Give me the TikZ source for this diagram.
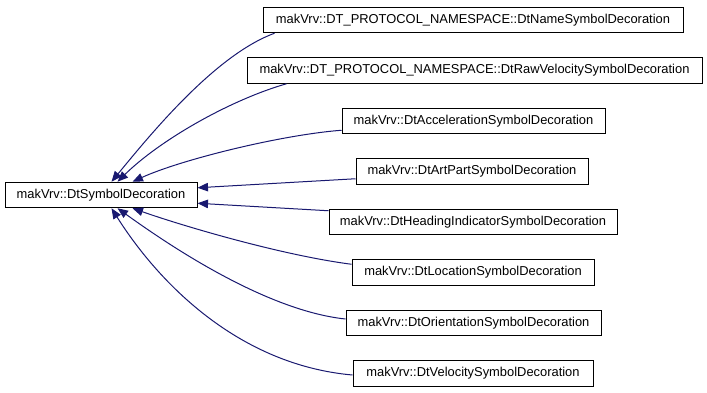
\documentclass[tikz,border=0pt]{standalone}
\usepackage{fontspec}
\setmainfont{Liberation Sans}
\usetikzlibrary{arrows.meta}
\definecolor{edgeblue}{HTML}{191970}
\begin{document}
\begin{tikzpicture}[x=1pt,y=-1pt,
  cls/.style={draw=black,line width=1pt,fill=white,rectangle,inner sep=0pt,
    minimum height=25.5pt,font=\fontsize{12.9}{15}\selectfont},
  inh/.style={draw=edgeblue,line width=1pt,-{Triangle[length=10.5pt,width=8.5pt]},color=edgeblue}]
\useasboundingbox (0,0) rectangle (707,392);
\node[cls,minimum width=192pt] (base) at (101,195) {makVrv::DtSymbolDecoration};
\node[cls,minimum width=420pt] (name) at (473,20) {makVrv::DT\_PROTOCOL\_NAMESPACE::DtNameSymbolDecoration};
\node[cls,minimum width=455pt] (raw) at (474.5,70.5) {makVrv::DT\_PROTOCOL\_NAMESPACE::DtRawVelocitySymbolDecoration};
\node[cls,minimum width=263pt] (accel) at (473.5,121) {makVrv::DtAccelerationSymbolDecoration};
\node[cls,minimum width=232pt] (art) at (472,171.5) {makVrv::DtArtPartSymbolDecoration};
\node[cls,minimum width=288pt] (head) at (473,222) {makVrv::DtHeadingIndicatorSymbolDecoration};
\node[cls,minimum width=242pt] (loc) at (473,272.5) {makVrv::DtLocationSymbolDecoration};
\node[cls,minimum width=255pt] (orient) at (473.5,323) {makVrv::DtOrientationSymbolDecoration};
\node[cls,minimum width=240pt] (vel) at (473,373.5) {makVrv::DtVelocitySymbolDecoration};

\draw[inh] ([xshift=12pt]name.south west) .. controls (215,55) and (150,135) .. ([xshift=107pt]base.north west);
\draw[inh] ([xshift=40pt]raw.south west) .. controls (230,100) and (160,140) .. ([xshift=113pt]base.north west);
\draw[inh] ([yshift=4pt]accel.south west) .. controls (280,135) and (180,160) .. ([xshift=128pt]base.north west);
\draw[inh] ([yshift=6pt]art.south west) -- ([yshift=-6pt]base.north east);
\draw[inh] ([yshift=-2pt]head.north west) -- ([yshift=5pt]base.south east);
\draw[inh] ([yshift=-5pt]loc.north west) .. controls (280,255) and (180,225) .. ([xshift=128pt]base.south west);
\draw[inh] ([yshift=4pt]orient.west) .. controls (260,310) and (155,235) .. ([xshift=113pt]base.south west);
\draw[inh] ([yshift=-1.5pt]vel.west) .. controls (240,365) and (160,285) .. ([xshift=107pt]base.south west);
\end{tikzpicture}
\end{document}
